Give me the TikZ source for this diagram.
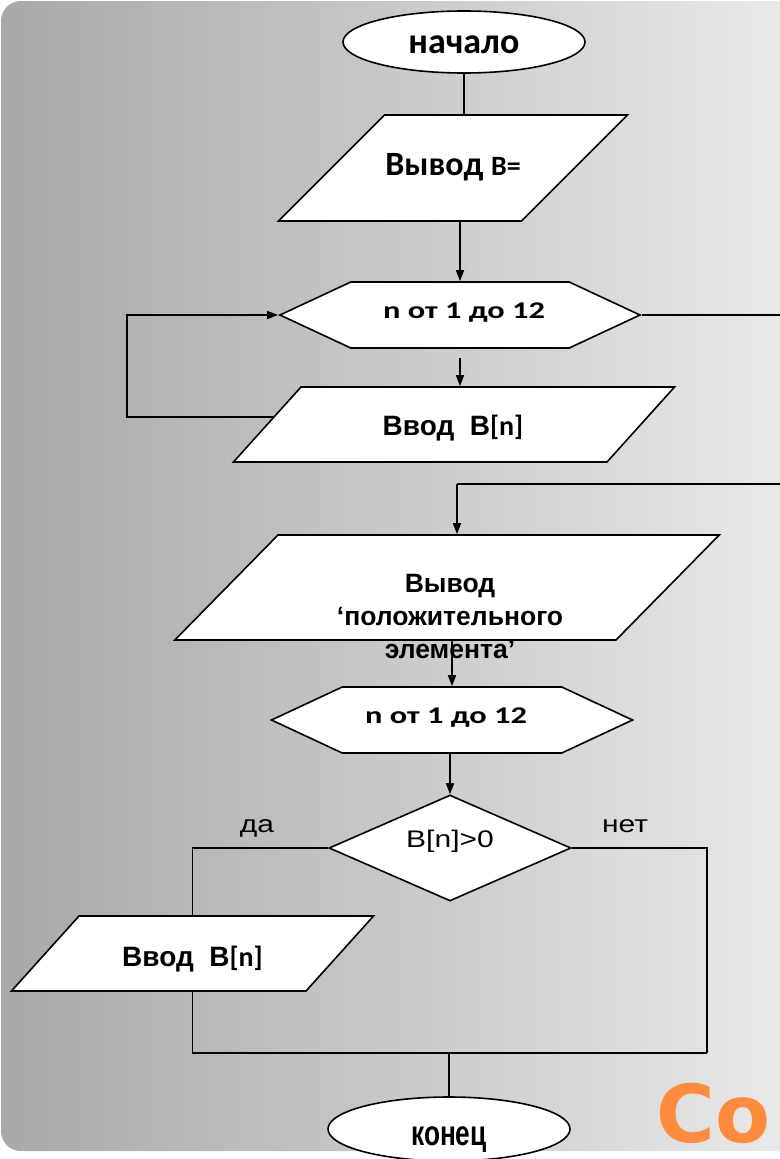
\documentclass[tikz,border=0pt]{standalone}
\usepackage{fontspec}
\setmainfont{Liberation Sans}
\newfontfamily\calfont{Carlito}
\newfontfamily\widecal{Carlito}[FakeStretch=1.35]
\newfontfamily\widearial{Liberation Sans}[FakeStretch=1.25]
\newfontfamily\narrowarial{Liberation Sans}[FakeStretch=0.75]
\newfontfamily\dejavu{DejaVu Sans}
\usetikzlibrary{
    arrows.meta,
    calc,
    shapes.geometric,
    shapes.symbols
}
\definecolor{bgleft}{RGB}{168,168,168}
\definecolor{bgright}{RGB}{234,234,234}
\definecolor{coorange}{RGB}{255,140,62}
\newcommand{\fsz}[1]{\fontsize{#1}{#1}\selectfont}
\tikzset{
    term/.style={ellipse,draw,fill=white,inner sep=0pt,minimum width=242pt},
    io/.style={trapezium,draw,fill=white,inner sep=0pt,text depth=0pt},
    loopbox/.style={signal,signal to=east and west,signal pointer angle=50,draw,fill=white,inner sep=0pt,minimum height=66pt},
    decision/.style={diamond,draw,fill=white,inner sep=0pt},
    txt/.style={anchor=base,inner sep=0pt}
}
\begin{document}
\begin{tikzpicture}[x=1pt,y=-1pt,line width=1.6pt,>={Triangle[length=11pt,width=8pt]}]
\useasboundingbox (0,0) rectangle (779,1159);
\fill[white] (0,0) rectangle (779,1159);
\shade[left color=bgleft,right color=bgright,rounded corners=20pt] (1,1) rectangle (800,1151);

\node[term,minimum height=62pt] (start) at (464,42) {};
\node[io,trapezium left angle=45,trapezium right angle=135,text width=137pt,text height=106pt] (out1) at (453,168) {};
\node[loopbox,minimum width=360pt] (loop1) at (460,315) {};
\node[io,trapezium left angle=48,trapezium right angle=132,text width=306pt,text height=75pt] (in1) at (454,424.5) {};
\node[io,trapezium left angle=45.5,trapezium right angle=134.5,text width=338pt,text height=105pt] (out2) at (447,587.5) {};
\node[loopbox,minimum width=361pt] (loop2) at (452,720) {};
\node[decision,minimum width=242pt,minimum height=106pt] (test) at (450,848) {};
\node[io,trapezium left angle=48,trapezium right angle=132,text width=227pt,text height=75pt] (in2) at (192.5,953.5) {};
\node[term,minimum height=64pt] (stop) at (449,1129) {};

\node[txt] (startlbl) at (464,53) {\calfont\bfseries\fsz{36}начало};
\node[txt] (out1lbl) at (453,175) {\calfont\bfseries\fsz{34}Вывод {\fsz{28}B=}};
\node[txt] (loop1lbl) at (464,318) {\widecal\bfseries\fsz{24}n от 1 до 12};
\node[txt] (in1lbl) at (453,435) {\bfseries\fsz{28}Ввод\ \ B{\calfont[n]}};
\node[align=center,inner sep=0pt,font=\bfseries\fontsize{26.5}{33}\selectfont] (out2lbl) at (450,617) {Вывод\\‘положительного\\элемента’};
\node[txt] (loop2lbl) at (446,723) {\widecal\bfseries\fsz{24}n от 1 до 12};
\node[txt] (testlbl) at (450,847) {\widearial\fsz{24}B[n]>0};
\node[txt] (yes) at (257,832) {\widearial\fsz{24}да};
\node[txt] (no) at (625,832) {\widearial\fsz{24}нет};
\node[txt] (in2lbl) at (192.5,966) {\bfseries\fsz{28}Ввод\ \ B{\calfont[n]}};
\node[txt] (stoplbl) at (449,1145) {\narrowarial\bfseries\fsz{35}конец};
\node[anchor=base west,inner sep=0pt,text=coorange] (brand) at (656,1142) {\dejavu\bfseries\fsz{80}Co};

\coordinate (ret) at (457,484);
\coordinate (joinR) at (707,1053);
\draw (start.south) -- (start.south |- out1.north);
\draw[->] (loop1 |- out1.south) -- (loop1.north);
\draw[->,shorten <=9pt] (loop1.south) -- (loop1.south |- in1.north);
\draw[->] ($(in1.bottom left corner)!0.6!(in1.top left corner)$) -- ++(-146,0) |- (loop1.west);
\draw (loop1.east) -- ++(170,0) |- (ret);
\draw[->] (ret) -- (ret |- out2.north);
\draw[->] (loop2 |- out2.south) -- (loop2.north);
\draw[->] (test |- loop2.south) -- (test.north);
\draw (test.west) -| (in2.north);
\draw (test.east) -| (joinR);
\draw (in2.south) |- (joinR);
\draw (stop |- joinR) -- (stop.north);
\end{tikzpicture}
\end{document}
